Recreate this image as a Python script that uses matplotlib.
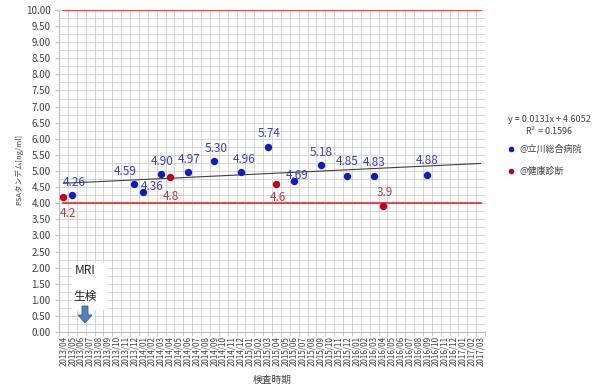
import matplotlib
matplotlib.use("Agg")
import matplotlib.pyplot as plt
import numpy as np

plt.rcParams['font.family'] = ['Noto Sans CJK JP', 'DejaVu Sans']

# ---- data ----
months = ["2013/04","2013/05","2013/06","2013/07","2013/08","2013/09","2013/10","2013/11","2013/12",
          "2014/01","2014/02","2014/03","2014/04","2014/05","2014/06","2014/07","2014/08","2014/09",
          "2014/10","2014/11","2014/12","2015/01","2015/02","2015/03","2015/04","2015/05","2015/06",
          "2015/07","2015/08","2015/09","2015/10","2015/11","2015/12","2016/01","2016/02","2016/03",
          "2016/04","2016/05","2016/06","2016/07","2016/08","2016/09","2016/10","2016/11","2016/12",
          "2017/01","2017/02","2017/03"]
hosp_months = ["2013/05","2013/12","2014/01","2014/03","2014/06","2014/09","2014/12","2015/03",
               "2015/06","2015/09","2015/12","2016/03","2016/09"]
hosp_values = [4.26, 4.59, 4.36, 4.90, 4.97, 5.30, 4.96, 5.74, 4.69, 5.18, 4.85, 4.83, 4.88]
hosp_labels = ["4.26","4.59","4.36","4.90","4.97","5.30","4.96","5.74","4.69","5.18","4.85","4.83","4.88"]
check_months = ["2013/04","2014/04","2015/04","2016/04"]
check_values = [4.2, 4.8, 4.6, 3.9]
check_labels = ["4.2","4.8","4.6","3.9"]
trend_slope = 0.0131
trend_intercept = 4.6052
r_squared = 0.1596
limit_lines = [4.0, 10.0]
series_names = ["@立川総合病院", "@健康診断"]

# label offsets in points (layout)
hosp_off = [(1,9),(-7,9),(6,4),(1,9),(1,9),(1,9),(2,9),(1,10),(2,4),(0,9),(0,10),(0,10),(0,10)]
check_off = [(3,-12),(1,-14),(1,-10),(1,10)]

BLUE = "#0a1ec8"
RED = "#c0001e"
BLUE_TXT = "#3c3cc8"
RED_TXT = "#c0393b"

fig = plt.figure(figsize=(5.99, 3.91), dpi=100)
W, H = 599, 391
ax = fig.add_axes([59/W, 1-332/H, (485-59)/W, (332-10)/H])

n = len(months)
idx = {m: i for i, m in enumerate(months)}
hx = [idx[m] for m in hosp_months]
cx = [idx[m] for m in check_months]

ax.set_xlim(-0.5, n-0.5)
ax.set_ylim(0, 10)

# grid
ax.set_xticks(np.arange(n))
ax.set_xticklabels(months, rotation=90, fontsize=5.8, color="#404040")
ax.set_xticks(np.arange(-0.5, n, 1), minor=True)
ax.set_yticks(np.arange(0, 10.01, 0.5))
ax.set_yticklabels([f"{v:.2f}" for v in np.arange(0, 10.01, 0.5)], fontsize=7, color="#404040")
ax.set_yticks(np.arange(0, 10.01, 0.25), minor=True)
ax.grid(which="minor", color="#d0d0d0", linewidth=0.6)
ax.grid(which="major", axis="y", color="#d0d0d0", linewidth=0.6)
ax.tick_params(axis="x", which="major", length=0, pad=3)
ax.tick_params(axis="x", which="minor", length=3, color="#bfbfbf")
ax.tick_params(axis="y", which="major", length=3, color="#bfbfbf", pad=3)
ax.tick_params(axis="y", which="minor", length=0)
for s in ["top", "right"]:
    ax.spines[s].set_visible(False)
for s in ["left", "bottom"]:
    ax.spines[s].set_color("#bfbfbf")
    ax.spines[s].set_linewidth(0.8)
ax.set_axisbelow(True)

# red limit lines
for v in limit_lines:
    ax.plot([0, n-1], [v, v], color="#ff2020", linewidth=1.2, zorder=2)

# trend line
tx = np.array([0, n-1])
ax.plot(tx, trend_slope*(tx+1) + trend_intercept, color="#404040", linewidth=0.8, zorder=3)

# points
ax.plot(hx, hosp_values, "o", color=BLUE, ms=4.3, zorder=4)
ax.plot(cx, check_values, "o", color=RED, ms=4.3, zorder=4)

for x, y, t, o in zip(hx, hosp_values, hosp_labels, hosp_off):
    ax.annotate(t, (x, y), xytext=o, textcoords="offset points", ha="center", va="center",
                fontsize=8.5, color=BLUE_TXT, zorder=5)
for x, y, t, o in zip(cx, check_values, check_labels, check_off):
    ax.annotate(t, (x, y), xytext=o, textcoords="offset points", ha="center", va="center",
                fontsize=8.5, color=RED_TXT, zorder=5)

ax.set_xlabel("検査時期", fontsize=7, color="#404040", labelpad=6)
fig.text(19/W, 1-170/H, "PSAタンデム[ng/ml]", rotation=90, fontsize=5.5, color="#404040",
         ha="center", va="center")

# MRI annotation box
fig.patches.append(plt.Rectangle((72/W, 1-310/H), 36/W, 47/H, transform=fig.transFigure,
                                 facecolor="white", edgecolor="none", zorder=3))
fig.text(85/W, 1-271/H, "MRI", fontsize=8.5, color="#262626", ha="center", va="center", zorder=4)
fig.text(85/W, 1-296/H, "生検", fontsize=8.5, color="#262626", ha="center", va="center", zorder=4)
arr = matplotlib.patches.FancyArrow(85/W, 1-306/H, 0, -17/H, width=6/W, head_width=14/W,
                                    head_length=8/H, length_includes_head=True,
                                    transform=fig.transFigure, facecolor="#4f81bd",
                                    edgecolor="#2f5f9a", linewidth=0.6, zorder=4)
fig.patches.append(arr)

# legend area
fig.text(549/W, 1-119/H, f"y = {trend_slope}x + {trend_intercept}", fontsize=6.5, color="#404040",
         ha="center", va="center")
fig.text(549/W, 1-131/H, f"R$^2$ = {r_squared}", fontsize=6.5, color="#404040",
         ha="center", va="center")
fig.lines.append(matplotlib.lines.Line2D([511/W], [1-149/H], marker="o", ms=3, color=BLUE,
                                         transform=fig.transFigure))
fig.lines.append(matplotlib.lines.Line2D([511/W], [1-171/H], marker="o", ms=3, color=RED,
                                         transform=fig.transFigure))
fig.text(520/W, 1-149/H, series_names[0], fontsize=6.5, color="#404040", ha="left", va="center")
fig.text(520/W, 1-171/H, series_names[1], fontsize=6.5, color="#404040", ha="left", va="center")

fig.savefig("out.png", dpi=100)
